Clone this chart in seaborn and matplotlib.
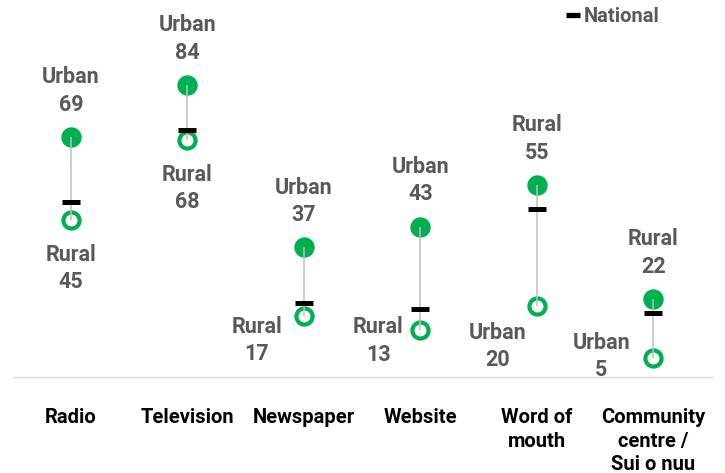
import matplotlib
matplotlib.use("Agg")
import matplotlib.pyplot as plt
from matplotlib.lines import Line2D
import numpy as np
import pandas as pd
import seaborn as sns

# Access channels, share of households (%)
categories = ["Radio", "Television", "Newspaper", "Website",
              "Word of\nmouth", "Community\ncentre /\nSui o nuu"]
urban = [69, 84, 37, 43, 20, 5]
rural = [45, 68, 17, 13, 55, 22]
national = [50, 71, 21, 19, 48, 18]

# Label placement for the lower point of each pair (pixel offsets from the marker)
lower_offsets = [(0, -49), (0, -48.5), (-47, -24), (-42, -11), (-39, -40.5), (-52, 1.5)]
upper_offset = (0, 46)

GREEN = "#00B050"
LABEL_GREY = "#595959"

sns.set_style("white")
plt.rcParams["font.family"] = ["Roboto", "DejaVu Sans"]

x = np.arange(len(categories))
hi = np.maximum(urban, rural)
lo = np.minimum(urban, rural)
hi_name = ["Urban" if u >= r else "Rural" for u, r in zip(urban, rural)]
lo_name = ["Rural" if u >= r else "Urban" for u, r in zip(urban, rural)]

df = pd.DataFrame({"x": x, "hi": hi, "lo": lo, "national": national})

fig = plt.figure(figsize=(7.25, 4.73), dpi=100)
ax = fig.add_axes([12.7 / 725, (473 - 377) / 473, 699 / 725, 375 / 473])

sns.scatterplot(data=df, x="x", y="hi", ax=ax, s=215, color=GREEN,
                edgecolor=GREEN, linewidth=0, zorder=3, legend=False)
sns.scatterplot(data=df, x="x", y="lo", ax=ax, s=135, facecolor="white",
                edgecolor=GREEN, linewidth=3.0, zorder=3, legend=False)
ax.vlines(x, lo, hi, color="#bfbfbf", linewidth=1.1, zorder=4)
sns.scatterplot(data=df, x="x", y="national", ax=ax, marker="_", s=169,
                color="black", linewidth=3.6, zorder=5, legend=False)

px = 0.72  # pixels to points
for i in range(len(categories)):
    ax.annotate(f"{hi_name[i]}\n{hi[i]}", (x[i], hi[i]),
                xytext=(upper_offset[0] * px, upper_offset[1] * px),
                textcoords="offset points", ha="center", va="center",
                fontsize=15.5, fontweight="bold", color=LABEL_GREY,
                linespacing=1.32)
    dx, dy = lower_offsets[i]
    ax.annotate(f"{lo_name[i]}\n{lo[i]}", (x[i], lo[i]),
                xytext=(dx * px, dy * px),
                textcoords="offset points", ha="center", va="center",
                fontsize=15.5, fontweight="bold", color=LABEL_GREY,
                linespacing=1.32)

ax.set_xlim(-0.5, len(categories) - 0.5)
ax.set_ylim(-0.58, 108.05)
ax.set_xlabel("")
ax.set_ylabel("")
ax.set_yticks([])
ax.set_xticks(x)
ax.set_xticklabels(categories, fontsize=14.5, fontweight="bold", color="black",
                   linespacing=1.3, va="top")
ax.set_xticks(np.arange(len(categories) + 1) - 0.5, minor=True)
ax.tick_params(axis="x", which="major", length=0, pad=22.5)
ax.tick_params(axis="x", which="minor", length=5, width=1, color="#d9d9d9",
               direction="out")
for side in ["top", "left", "right"]:
    ax.spines[side].set_visible(False)
ax.spines["bottom"].set_color("#d9d9d9")
ax.spines["bottom"].set_linewidth(1)

handle = Line2D([], [], color="black", marker="_", linestyle="none",
                markersize=10, markeredgewidth=3.8)
leg = fig.legend([handle], ["National"], loc="center left",
                 bbox_to_anchor=(566 / 725, 1 - 17 / 473), frameon=False,
                 handlelength=0.7, handletextpad=0.2, borderpad=0,
                 borderaxespad=0, prop={"size": 14.5, "weight": "bold"})
for t in leg.get_texts():
    t.set_color(LABEL_GREY)

fig.savefig("out.png", dpi=100)
